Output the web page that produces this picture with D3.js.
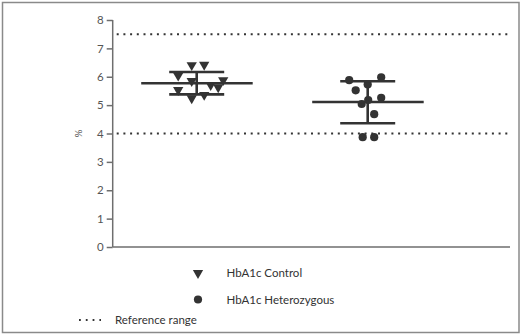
<!DOCTYPE html>
<html><head><meta charset="utf-8">
<script src="https://cdn.jsdelivr.net/npm/d3@7"></script>
<style>body{margin:0;background:#fff}svg{display:block}text{font-family:Lato,"Open Sans",sans-serif}</style>
</head><body>
<script>
const yTicks = [0,1,2,3,4,5,6,7,8];
const groups = ["HbA1c Control","HbA1c Heterozygous"];
const controlValues = [6.41,6.42,6.04,5.85,5.71,5.88,5.63,5.53,5.24,5.36];
const controlOffsets = [-5,7.5,-18.5,-5,14,26.5,21.5,-18.5,-5,7.5];
const hetValues = [5.88,5.98,5.73,5.52,5.26,5.18,5.04,4.68,3.87,3.87];
const hetOffsets = [-18.5,13.5,0,-12,13.5,0.5,-6,6.5,-5,6.5];
const means = [5.77,5.11];
const sdHigh = [6.17,5.84];
const sdLow = [5.38,4.36];
const referenceRange = [4,7.5];
const legendLabels = ["HbA1c Control","HbA1c Heterozygous","Reference range"];

const W=522,H=335;
const svg=d3.select("body").append("svg").attr("width",W).attr("height",H);
svg.append("rect").attr("x",2.5).attr("y",2.5).attr("width",516.5).attr("height",330).attr("fill","none").attr("stroke","#8a8a8a").attr("stroke-width",1.5);

const y=d3.scaleLinear().domain([0,8]).range([247,20]);
const x=d3.scalePoint().domain(groups).range([196.7,367.7]);
const xLeft=112.7, xRight=510;
const axisCol="#6e6e6e", markCol="#333";

// axes
const yAxis=svg.append("g").attr("transform",`translate(${xLeft},0)`)
  .call(d3.axisLeft(y).tickValues(yTicks).tickSize(6).tickFormat(d3.format("d")));
yAxis.select(".domain").attr("stroke",axisCol).attr("stroke-width",1.5).attr("d",`M0,${y(8)}V${y(0)}`);
yAxis.selectAll(".tick line").attr("stroke",axisCol).attr("stroke-width",1.5);
yAxis.selectAll(".tick text").attr("fill","#555").attr("font-size",11.5).attr("x",-9);
svg.append("line").attr("x1",xLeft).attr("x2",xRight).attr("y1",y(0)).attr("y2",y(0)).attr("stroke",axisCol).attr("stroke-width",1.5);

svg.append("text").attr("transform",`translate(82,${y(4)}) rotate(-90)`).attr("text-anchor","middle").attr("font-size",10).attr("fill","#555").text("%");

// reference lines
referenceRange.forEach(v=>{
  svg.append("line").attr("x1",xLeft+4).attr("x2",xRight).attr("y1",y(v)).attr("y2",y(v))
    .attr("stroke","#333").attr("stroke-width",2).attr("stroke-dasharray","2,4.7");
});

const tri=d3.symbol().type(d3.symbolTriangle).size(46);
const datasets=[{vals:controlValues,offs:controlOffsets,type:"tri"},{vals:hetValues,offs:hetOffsets,type:"circ"}];
datasets.forEach((ds,i)=>{
  const cx=x(groups[i]);
  const g=svg.append("g");
  ds.vals.forEach((v,j)=>{
    if(ds.type==="tri") g.append("path").attr("d",tri()).attr("transform",`translate(${cx+ds.offs[j]},${y(v)}) rotate(180)`).attr("fill",markCol);
    else g.append("circle").attr("cx",cx+ds.offs[j]).attr("cy",y(v)).attr("r",4.1).attr("fill",markCol);
  });
  const lw=2.6;
  g.append("line").attr("x1",cx).attr("x2",cx).attr("y1",y(sdHigh[i])).attr("y2",y(sdLow[i])).attr("stroke",markCol).attr("stroke-width",lw);
  g.append("line").attr("x1",cx-27.5).attr("x2",cx+27.5).attr("y1",y(sdHigh[i])).attr("y2",y(sdHigh[i])).attr("stroke",markCol).attr("stroke-width",lw);
  g.append("line").attr("x1",cx-27.5).attr("x2",cx+27.5).attr("y1",y(sdLow[i])).attr("y2",y(sdLow[i])).attr("stroke",markCol).attr("stroke-width",lw);
  g.append("line").attr("x1",cx-55.5).attr("x2",cx+56).attr("y1",y(means[i])).attr("y2",y(means[i])).attr("stroke",markCol).attr("stroke-width",lw);
});

// legend
svg.append("path").attr("d",d3.symbol().type(d3.symbolTriangle).size(46)()).attr("transform","translate(198,273) rotate(180)").attr("fill",markCol);
svg.append("circle").attr("cx",198).attr("cy",299.5).attr("r",4.1).attr("fill",markCol);
svg.append("line").attr("x1",79).attr("x2",101).attr("y1",320).attr("y2",320).attr("stroke","#333").attr("stroke-width",1.8).attr("stroke-dasharray","1.8,5");
const lt=[[226.5,273],[226.5,299.5],[115,320]];
legendLabels.forEach((t,i)=>{
  svg.append("text").attr("x",lt[i][0]).attr("y",lt[i][1]).attr("dy","0.35em").attr("font-size",11.5).attr("fill","#333").text(t);
});
</script>
</body></html>
